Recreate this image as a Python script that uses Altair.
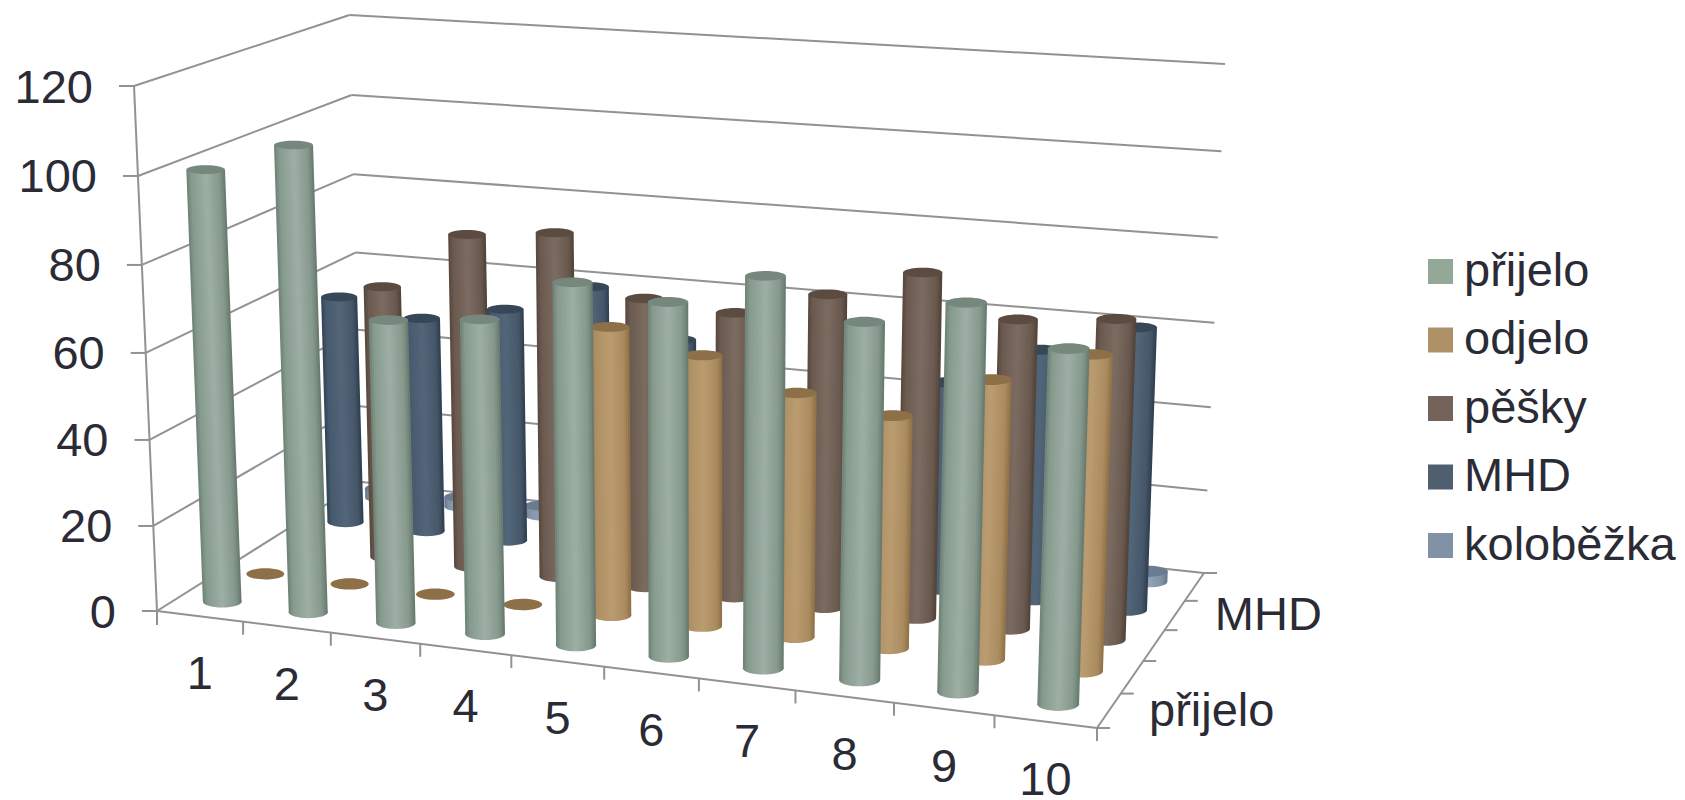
import numpy as np
import pandas as pd
import altair as alt

categories = ["1", "2", "3", "4", "5", "6", "7", "8", "9", "10"]
series_names = ["přijelo", "odjelo", "pěšky", "MHD", "koloběžka"]
prijelo = [100, 107, 69.5, 71.5, 81.5, 79, 86.5, 78.5, 84.5, 76.7]
odjelo = [0, 0, 0, 0, 66.5, 62, 55.5, 52.5, 62.5, 70]
pesky = [60, 65.5, 79.5, 81.5, 68, 66.5, 72.5, 79.2, 70.5, 72.5]
mhd = [56.5, 53, 57, 64.2, 53.3, 50, 50, 49, 58.5, 65.5]
kolobezka = [2.5, 2.5, 2.5, 2.5, 2.5, 2.5, 2.5, 2.5, 2.5, 2.5]
series_values = [prijelo, odjelo, pesky, mhd, kolobezka]
value_ticks = [0, 20, 40, 60, 80, 100, 120]
depth_labels = {0: "přijelo", 3: "MHD"}

legend_colors = ["#94a89a", "#ae9167", "#736358", "#505f70", "#8192a6"]
top_colors = ["#76887e", "#8d7048", "#5c4b41", "#364758", "#6b7c92"]
body_stops = [
    ["#6d7f75", "#869a8d", "#9eafa5", "#85988c", "#65776c"],
    ["#94774d", "#ad8e62", "#bb9c70", "#ab8c60", "#8c6f46"],
    ["#55463c", "#6b5a4f", "#7c6b60", "#6a594e", "#4f4137"],
    ["#2f4256", "#47596c", "#536679", "#465769", "#2c3d4f"],
    ["#64758a", "#8193a8", "#93a4b8", "#8092a6", "#63748a"],
]
stop_at = [0, 0.12, 0.5, 0.85, 1]
TEXT = "#2b2b36"
LINE = "#929292"
FONT = "Liberation Sans"

# perspective of the 3-D box
FL, FR, BR, BL = (157, 611), (1097, 728), (1204, 573), (362, 482)
H120 = {"FL": 525, "FR": 572, "BR": 509, "BL": 467}
VX, VY = 695, 12901
CURVE = 0.035
WIDTH_PER_SCALE = 8.9


def homography():
    src = [(0, 0), (1, 0), (1, 1), (0, 1)]
    dst = [FL, FR, BR, BL]
    A, b = [], []
    for (u, v), (x, y) in zip(src, dst):
        A.append([u, v, 1, 0, 0, 0, -u * x, -v * x]); b.append(x)
        A.append([0, 0, 0, u, v, 1, -u * y, -v * y]); b.append(y)
    h = np.linalg.solve(np.array(A, float), np.array(b, float))
    return np.append(h, 1).reshape(3, 3)


HM = homography()


def floor(u, v):
    p = HM @ np.array([u, v, 1.0])
    return p[0] / p[2], p[1] / p[2]


def scale_at(u, v):
    return ((1 - u) * (1 - v) * H120["FL"] + u * (1 - v) * H120["FR"]
            + u * v * H120["BR"] + (1 - u) * v * H120["BL"]) / 120


def project(u, v, val):
    xb, yb = floor(u, v)
    s = scale_at(u, v)
    d = s * val * (1 + CURVE * val / 120) / (1 + CURVE)
    y = yb - d
    x = xb + (xb - VX) / (VY - yb) * d
    return x, y


def hexmix(a, b, t):
    ca = [int(a[i:i + 2], 16) for i in (1, 3, 5)]
    cb = [int(b[i:i + 2], 16) for i in (1, 3, 5)]
    return "#%02x%02x%02x" % tuple(round(p + (q - p) * t) for p, q in zip(ca, cb))


def stop_color(cols, t):
    for i in range(len(stop_at) - 1):
        if t <= stop_at[i + 1]:
            return hexmix(cols[i], cols[i + 1], (t - stop_at[i]) / (stop_at[i + 1] - stop_at[i]))
    return cols[-1]


def ellipse_path(r):
    return f"M-1,0A1,{r:.3f},0,1,1,1,0A1,{r:.3f},0,1,1,-1,0Z"


def ratio(y):
    return 0.195 + 0.00017 * y


xs = alt.Scale(domain=[8, 1677], nice=False, zero=False)
ys = alt.Scale(domain=[800, 8], nice=False, zero=False)
X = alt.X("x:Q", scale=xs, axis=None)
Y = alt.Y("y:Q", scale=ys, axis=None)

layers = []

# box lines
rules = []


def rule(a, b):
    rules.append({"x": a[0], "y": a[1], "x2": b[0], "y2": b[1]})


for val in value_ticks:
    a, b, c = project(0, 0, val), project(0, 1, val), project(1, 1, val)
    rule(a, b)
    rule(b, c)
    rule((a[0] - 15, a[1]), a)
rule(project(0, 0, 0), project(0, 0, 120))
rule(FL, FR)
rule(FR, BR)
rule((FL[0], FL[1]), (FL[0], FL[1] + 14))
for i in range(0, 11):
    p = floor(i / 10, 0)
    rule(p, (p[0], p[1] + 13))
for i in range(0, 6):
    p = floor(1, i / 5)
    rule(p, (p[0] + 13, p[1]))
layers.append(
    alt.Chart(pd.DataFrame(rules)).mark_rule(color=LINE, strokeWidth=2).encode(
        x=X, y=Y, x2="x2:Q", y2="y2:Q"
    )
)

# cylinders, back row first
N_STRIPS = 20
for si in range(4, -1, -1):
    vals = series_values[si]
    bottoms, tops, strips = [], [], []
    for ci, val in enumerate(vals):
        u, v = (ci + 0.5) / 10, (si + 0.5) / 5
        w = scale_at(u, v) * WIDTH_PER_SCALE
        xb, yb = project(u, v, 0)
        xt, yt = project(u, v, val)
        tops.append({"x": xt, "y": yt, "size": w * w, "path": ellipse_path(ratio(yt))})
        if val <= 0:
            continue
        bottoms.append({"x": xb, "y": yb, "size": w * w, "path": ellipse_path(ratio(yb))})
        for k in range(N_STRIPS):
            t0, t1 = k / N_STRIPS, (k + 1) / N_STRIPS
            col = stop_color(body_stops[si], (t0 + t1) / 2)
            over = 0 if k == N_STRIPS - 1 else 0.8
            for (px, py) in ((xt, yt), (xb, yb)):
                strips.append({"x": px - w / 2 + t0 * w, "x2": px - w / 2 + t1 * w + over,
                               "y": py, "strip": f"{ci}-{k:02d}", "col": col})
    grad = {"gradient": "linear", "x1": 0, "x2": 1, "y1": 0, "y2": 0,
            "stops": [{"offset": o, "color": c} for o, c in zip(stop_at, body_stops[si])]}
    if bottoms:
        layers.append(
            alt.Chart(pd.DataFrame(bottoms)).mark_point(filled=True, fill=grad, opacity=1, strokeWidth=0).encode(
                x=X, y=Y, size=alt.Size("size:Q", scale=None, legend=None),
                shape=alt.Shape("path:N", scale=None, legend=None),
            )
        )
    if strips:
        layers.append(
            alt.Chart(pd.DataFrame(strips)).mark_area(orient="horizontal", opacity=1).encode(
                x=alt.X("x:Q", scale=xs, axis=None, stack=None), x2="x2:Q", y=Y,
                detail="strip:N",
                fill=alt.Fill("col:N", scale=None, legend=None),
            )
        )
    layers.append(
        alt.Chart(pd.DataFrame(tops)).mark_point(filled=True, fill=top_colors[si], opacity=1, strokeWidth=0).encode(
            x=X, y=Y, size=alt.Size("size:Q", scale=None, legend=None),
            shape=alt.Shape("path:N", scale=None, legend=None),
        )
    )

# texts
txt = dict(font=FONT, fontSize=47, color=TEXT)
vt = []
for val in value_ticks:
    px, py = project(0, 0, val)
    vt.append({"x": px - 41, "y": py + 2.5, "t": str(val)})
layers.append(alt.Chart(pd.DataFrame(vt)).mark_text(align="right", baseline="middle", **txt).encode(x=X, y=Y, text="t:N"))
ct = []
for i, c in enumerate(categories):
    px, py = floor((i + 0.5) / 10, 0)
    ct.append({"x": px, "y": py + 59, "t": c})
layers.append(alt.Chart(pd.DataFrame(ct)).mark_text(align="center", baseline="middle", **txt).encode(x=X, y=Y, text="t:N"))
dt = []
for i, lab in depth_labels.items():
    px, py = floor(1, (i + 0.5) / 5)
    dt.append({"x": px + 40, "y": py + 1, "t": lab})
layers.append(alt.Chart(pd.DataFrame(dt)).mark_text(align="left", baseline="middle", **txt).encode(x=X, y=Y, text="t:N"))

# legend
leg = pd.DataFrame({"x": [100] * 5, "y": [100] * 5, "name": series_names})
layers.append(
    alt.Chart(leg).mark_square(opacity=0, size=1).encode(
        x=X, y=Y,
        color=alt.Color("name:N", scale=alt.Scale(domain=series_names, range=legend_colors),
                        legend=alt.Legend(title=None, orient="none", legendX=1409, legendY=240,
                                          symbolType="square", symbolSize=625, symbolStrokeWidth=0,
                                          symbolOpacity=1, labelFont=FONT, labelFontSize=47,
                                          labelColor=TEXT, labelOffset=0, rowPadding=20.5, padding=0,
                                          labelLimit=400)),
    )
)

chart = alt.layer(*layers).properties(
    width=1669, height=792, padding=0, autosize=alt.AutoSizeParams(type="none")
).configure_view(stroke=None)
chart.save("out.html", embed_options={"renderer": "svg", "actions": False})
